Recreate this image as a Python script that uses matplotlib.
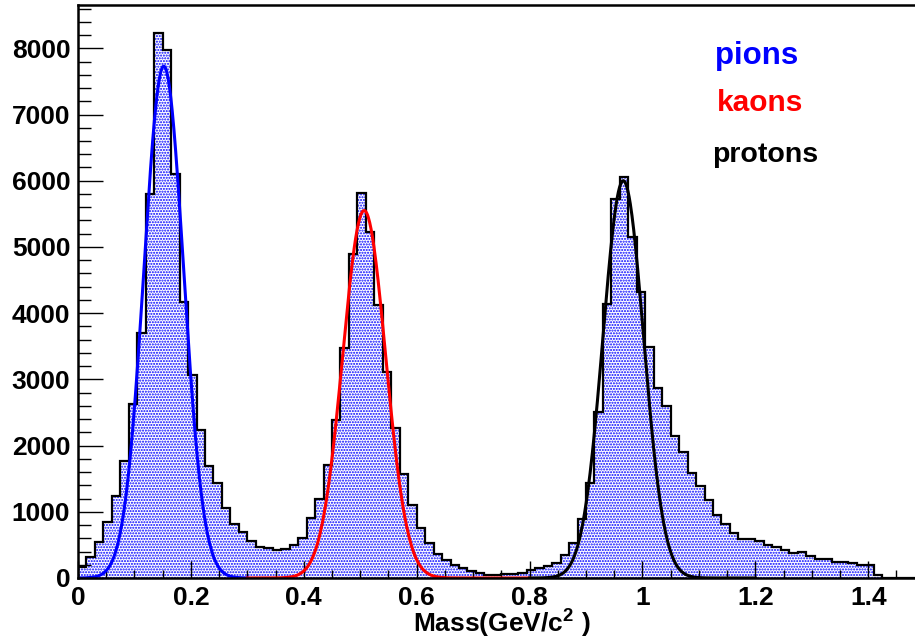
import numpy as np
import matplotlib
matplotlib.use("Agg")
import matplotlib.pyplot as plt
from matplotlib.ticker import MultipleLocator

plt.rcParams["font.family"] = ["Liberation Sans", "DejaVu Sans"]
plt.rcParams["font.weight"] = "bold"
plt.rcParams["mathtext.fontset"] = "custom"
plt.rcParams["mathtext.rm"] = "Liberation Sans:bold"
plt.rcParams["mathtext.default"] = "rm"
plt.rcParams["hatch.linewidth"] = 1.0

# histogram: 100 bins of 0.015 GeV/c^2 from 0 to 1.5
bin_edges = np.linspace(0.0, 1.5, 101)
counts = [
    165, 313, 550, 852, 1237, 1770, 2622, 3694, 5800, 8230,
    7980, 6100, 4170, 3060, 2240, 1690, 1430, 1055, 810, 690,
    560, 465, 460, 430, 440, 500, 610, 900, 1190, 1700,
    2380, 3480, 4890, 5820, 5220, 4130, 3110, 2265, 1570, 1100,
    760, 525, 365, 270, 200, 145, 110, 70, 45, 45,
    55, 60, 70, 121, 150, 175, 230, 348, 524, 887,
    1442, 2506, 4145, 5721, 6063, 5146, 4315, 3494, 2865, 2600,
    2148, 1908, 1581, 1390, 1180, 953, 817, 686, 585, 585,
    563, 499, 474, 424, 373, 398, 338, 287, 287, 247,
    247, 222, 197, 197, 45, 0, 0, 0, 0, 0,
]

# gaussian fits
species = ["pions", "kaons", "protons"]
colors = ["#0000ff", "#ff0000", "#000000"]
fit_amp = [7730, 5550, 6000]
fit_mean = [0.152, 0.507, 0.966]
fit_sigma = [0.035, 0.038, 0.036]
fit_lo = [0.0, 0.3, 0.8]
fit_hi = [0.3, 0.8, 1.2]

fig = plt.figure(figsize=(9.15, 6.43), dpi=100)
ax = fig.add_axes([0.0852, 0.1011, 0.9254, 0.8911])

ax.stairs(counts, bin_edges, fill=True, facecolor="white", edgecolor="#0000ff",
          hatch="......", linewidth=0)
ax.stairs(counts, bin_edges, color="black", linewidth=1.6)

for i in range(len(species)):
    x = np.linspace(fit_lo[i], fit_hi[i], 400)
    y = fit_amp[i] * np.exp(-0.5 * ((x - fit_mean[i]) / fit_sigma[i]) ** 2)
    ax.plot(x, y, color=colors[i], linewidth=2.2)

label_x = [1.129, 1.131, 1.123]
label_y = [7760, 7050, 6280]
label_size = [22.5, 21.5, 20.5]
for i in range(len(species)):
    ax.text(label_x[i], label_y[i], species[i], color=colors[i],
            fontsize=label_size[i], fontweight="bold", ha="left", va="baseline")

ax.set_xlim(0, 1.5)
ax.set_ylim(0, 8654)
ax.xaxis.set_minor_locator(MultipleLocator(0.05))
ax.yaxis.set_major_locator(MultipleLocator(1000))
ax.yaxis.set_minor_locator(MultipleLocator(200))
ax.set_xticks([0, 0.2, 0.4, 0.6, 0.8, 1.0, 1.2, 1.4])
ax.set_xticklabels(["0", "0.2", "0.4", "0.6", "0.8", "1", "1.2", "1.4"])

ax.tick_params(axis="x", which="major", direction="in", length=12, width=1, pad=5.5,
               labelsize=19)
ax.tick_params(axis="x", which="minor", direction="in", length=6, width=1)
ax.tick_params(axis="y", which="major", direction="in", length=18, width=1, pad=5.5,
               labelsize=19)
ax.tick_params(axis="y", which="minor", direction="in", length=9, width=1)

for side in ["left", "bottom", "top", "right"]:
    ax.spines[side].set_linewidth(1.8)

ax.set_xlabel("Mass(GeV/c$^{2}$ )", fontsize=19, fontweight="bold", labelpad=-1.5)

fig.savefig("out.png", dpi=100)
